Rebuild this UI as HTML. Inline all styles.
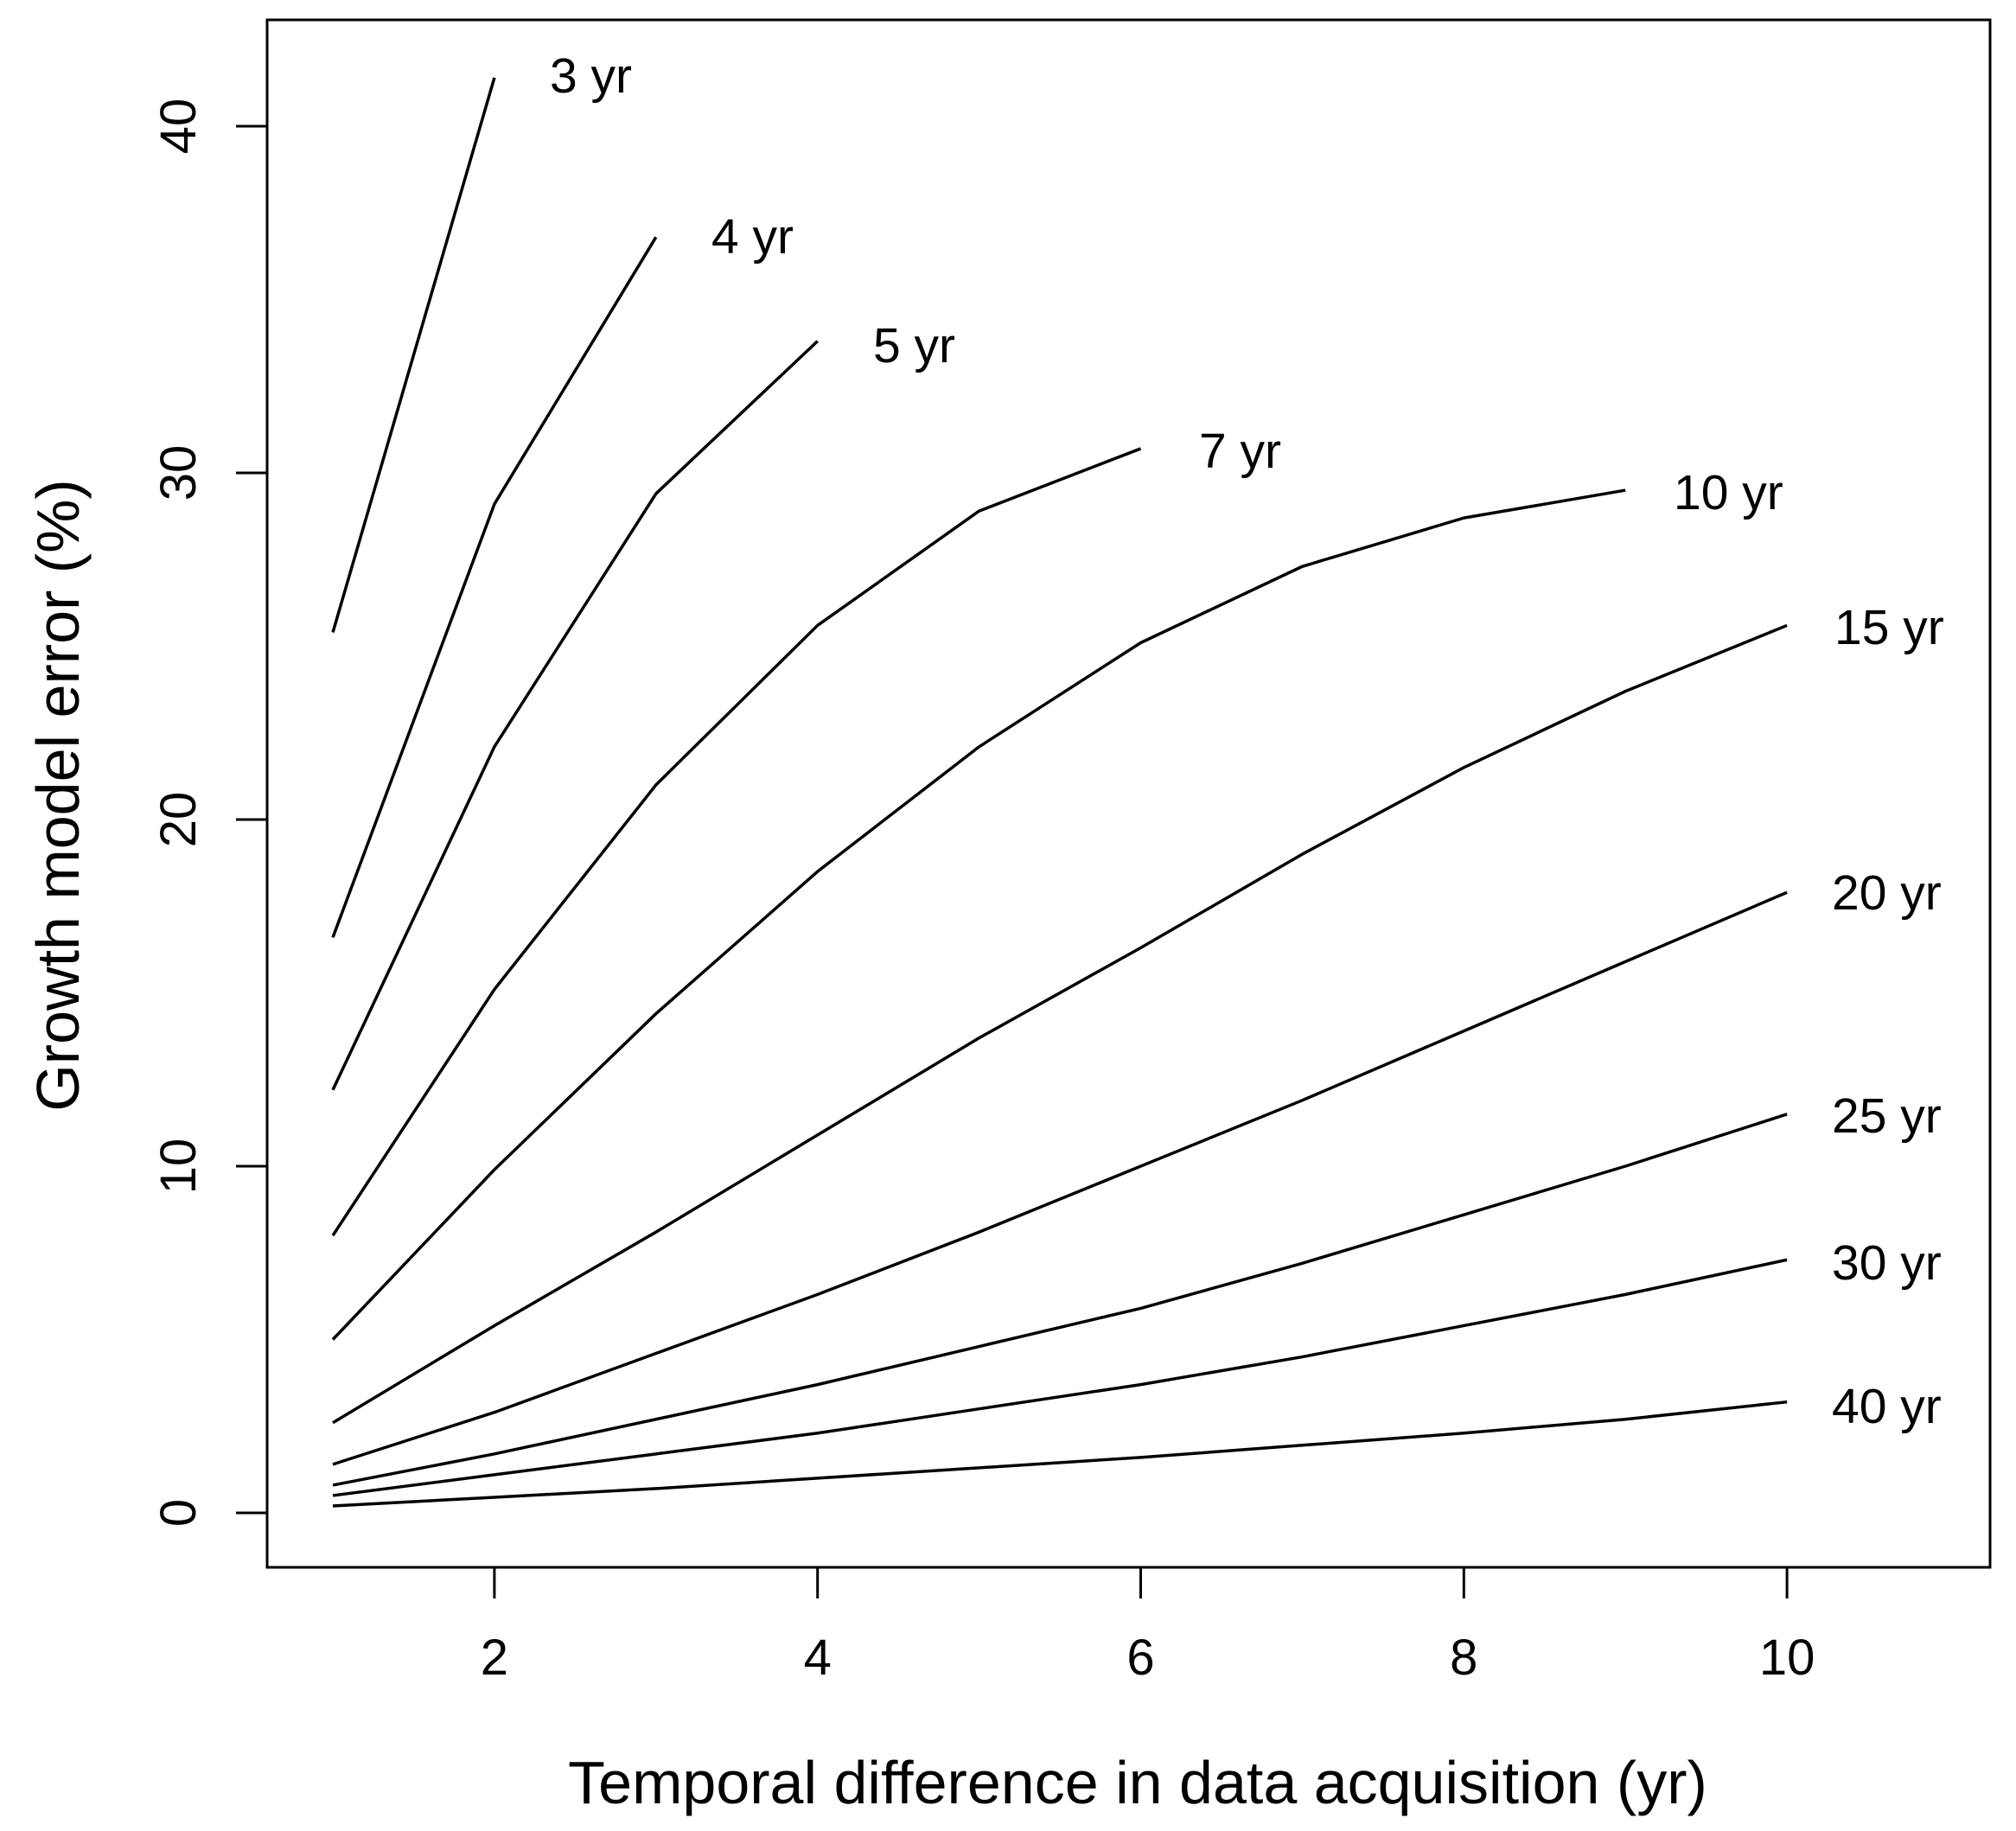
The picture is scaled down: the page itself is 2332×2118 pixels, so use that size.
<!DOCTYPE html>
<html><head><meta charset="utf-8"><style>
html,body{margin:0;padding:0;background:#fff}
svg{display:block}
text{font-family:"Liberation Sans",Arial,sans-serif;fill:#000}
</style></head><body>
<svg id="chart" width="2332" height="2118" viewBox="0 0 2332 2118" xmlns="http://www.w3.org/2000/svg">
<rect x="309" y="23" width="1993" height="1790" fill="none" stroke="#000" stroke-width="3"/>
<g id="axes"></g>
<g id="lines"></g>
<text x="1316" y="2086" font-size="70" text-anchor="middle">Temporal difference in data acquisition (yr)</text>
<text transform="translate(91,920) rotate(-90)" font-size="70" text-anchor="middle">Growth model error (%)</text>
</svg>
<script>
const seriesNames = ["3 yr","4 yr","5 yr","7 yr","10 yr","15 yr","20 yr","25 yr","30 yr","40 yr"];
const s3 = [25.4, 41.4];
const s4 = [16.6, 29.1, 36.8];
const s5 = [12.2, 22.1, 29.4, 33.8];
const s7 = [8.0, 15.1, 21.0, 25.6, 28.9, 30.7];
const s10 = [5.0, 9.9, 14.4, 18.5, 22.1, 25.1, 27.3, 28.7, 29.5];
const s15 = [2.6, 5.4, 8.1, 10.9, 13.7, 16.3, 19.0, 21.5, 23.7, 25.6];
const s20 = [1.4, 2.9, 4.6, 6.3, 8.1, 10.0, 11.9, 13.9, 15.9, 17.9];
const s25 = [0.8, 1.7, 2.7, 3.7, 4.8, 5.9, 7.2, 8.6, 10.0, 11.5];
const s30 = [0.5, 1.1, 1.7, 2.3, 3.0, 3.7, 4.5, 5.4, 6.3, 7.3];
const s40 = [0.2, 0.45, 0.7, 1.0, 1.3, 1.6, 1.95, 2.3, 2.7, 3.2];
const xTicks = [2, 4, 6, 8, 10];
const yTicks = [0, 10, 20, 30, 40];
const allSeries = [s3, s4, s5, s7, s10, s15, s20, s25, s30, s40];
const labelPos = [[636,107],[823,293],[1010,419],[1387,541],[1936,589],[2122,745],[2119,1052],[2119,1310],[2119,1480],[2119,1646]];

const NS = "http://www.w3.org/2000/svg";
function xs(v){ return 385 + (v - 1) * 186.9; }
function ys(v){ return 1750 - v * 40.1; }
const axes = document.getElementById('axes');
const lines = document.getElementById('lines');
function mk(tag, attrs, parent){ const e = document.createElementNS(NS, tag); for (const k in attrs) e.setAttribute(k, attrs[k]); parent.appendChild(e); return e; }

xTicks.forEach(t => {
  const l = mk('line', {x1: xs(t), x2: xs(t), y1: 1813, y2: 1849, stroke: '#000', 'stroke-width': 3}, axes);
  
  
  const tx = mk('text', {x: xs(t), y: 1937, 'font-size': 58, 'text-anchor': 'middle'}, axes);
  tx.textContent = t;
  
  
});
yTicks.forEach(t => {
  const l = mk('line', {x1: 273, x2: 309, y1: ys(t), y2: ys(t), stroke: '#000', 'stroke-width': 3}, axes);
  
  
  const tx = mk('text', {transform: 'translate(226,' + ys(t) + ') rotate(-90)', 'font-size': 58, 'text-anchor': 'middle'}, axes);
  tx.textContent = t;
  
  
});
allSeries.forEach((s, i) => {
  const pts = s.map((v, j) => xs(j + 1) + ',' + ys(v)).join(' ');
  const p = mk('polyline', {points: pts, fill: 'none', stroke: '#000', 'stroke-width': 3.5, 'stroke-linejoin': 'round'}, lines);
  
  
  const tx = mk('text', {x: labelPos[i][0], y: labelPos[i][1], 'font-size': 57}, lines);
  tx.textContent = seriesNames[i];
  
  
});
</script>
</body></html>
